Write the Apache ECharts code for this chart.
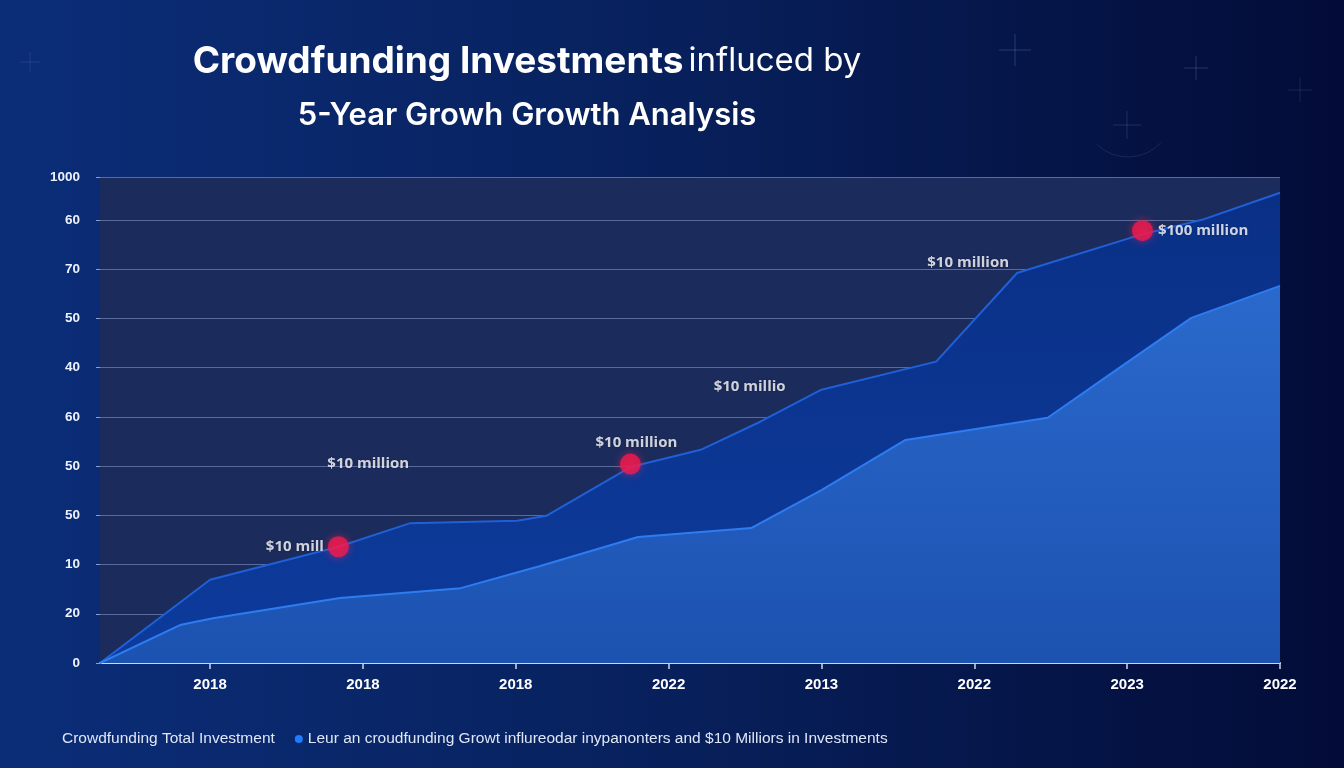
<!DOCTYPE html>
<html>
<head>
<meta charset="utf-8">
<script src="https://cdn.jsdelivr.net/npm/echarts@6/dist/echarts.min.js"></script>
<style>
html,body{margin:0;padding:0;width:1344px;height:768px;overflow:hidden;background:#061a55;}
#c{width:1344px;height:768px;}
</style>
</head>
<body>
<div id="c"></div>
<script>
// ---- data ----
var xTickPositions = [0, 1, 2, 3, 4, 5, 6, 7];
var xTickLabels = ['2018', '2018', '2018', '2022', '2013', '2022', '2023', '2022'];
var yTickLabels = ['0', '20', '10', '50', '50', '60', '40', '50', '70', '60', '1000'];

var totalName = 'Crowdfunding Total Investment';
var totalX = [-0.72, 0, 0.84, 1.31, 2.01, 2.20, 2.75, 3.21, 3.60, 4.00, 4.75, 5.28, 6.09, 6.49, 7.00];
var totalY = [0, 16.9, 23.6, 28.4, 28.9, 29.9, 39.8, 43.3, 49.0, 55.5, 61.2, 79.2, 87.0, 90.0, 95.5];

var growthName = 'Leur an croudfunding Growt influreodar inypanonters and $10 Milliors in Investments';
var growthX = [-0.72, -0.197, 0.02, 0.85, 1.64, 2.16, 2.80, 3.54, 4.00, 4.55, 5.48, 5.96, 6.42, 7.00];
var growthY = [0, 7.7, 9.1, 13.2, 15.2, 19.7, 25.6, 27.4, 35.1, 45.3, 49.8, 60.2, 70.1, 76.6];

var annoX = [0.84, 1.035, 2.75, 3.53, 4.96, 6.10];
var annoY = [23.6, 40.4, 40.4, 56.1, 81.3, 87.8];
var annoText = ['$10 mill', '$10 million', '$10 million', '$10 millio', '$10 million', '$100 million'];
var annoMarker = [true, false, true, false, false, true];

// ---- presentation (not data) ----
var annoPlacement = [
  {position: 'left', distance: 4, offset: [0, 0]},
  {position: 'inside', distance: 0, offset: [0, 0]},
  {position: 'top', distance: 3, offset: [6, 0]},
  {position: 'inside', distance: 0, offset: [0, 0]},
  {position: 'inside', distance: 0, offset: [0, 0]},
  {position: 'right', distance: 5, offset: [0, 0]}
];

function zip(xs, ys) { return xs.map(function (x, i) { return [x, ys[i]]; }); }

var annoData = annoX.map(function (x, i) {
  var p = annoPlacement[i];
  return {
    value: [x, annoY[i]],
    symbolSize: annoMarker[i] ? 21 : 0,
    label: {
      show: true, formatter: annoText[i], position: p.position,
      distance: p.distance, offset: p.offset
    }
  };
});

var chart = echarts.init(document.getElementById('c'), null, {renderer: 'canvas'});

function cross(x, y, s, op) {
  return {
    type: 'group', silent: true,
    children: [
      {type: 'line', shape: {x1: x - s, y1: y, x2: x + s, y2: y}, style: {stroke: 'rgba(170,190,240,' + op + ')', lineWidth: 1}},
      {type: 'line', shape: {x1: x, y1: y - s, x2: x, y2: y + s}, style: {stroke: 'rgba(170,190,240,' + op + ')', lineWidth: 1}}
    ]
  };
}

var option = {
  backgroundColor: new echarts.graphic.LinearGradient(0, 0, 1, 0, [
    {offset: 0, color: '#0b2d78'},
    {offset: 0.45, color: '#08225f'},
    {offset: 1, color: '#030c38'}
  ]),
  animation: false,
  graphic: [
    cross(1015, 50, 16, 0.22),
    cross(1196, 68, 12, 0.2),
    cross(1127, 125, 14, 0.16),
    cross(30, 62, 10, 0.13),
    cross(1300, 90, 12, 0.13),
    {type: 'arc', silent: true, shape: {cx: 1128, cy: 112, r: 45, startAngle: 0.75, endAngle: 2.35},
     style: {stroke: 'rgba(170,190,240,0.12)', lineWidth: 1, fill: null}}
  ],
  title: [
    {
      text: '{b|Crowdfunding Investments} {r|influced by}',
      left: 522, top: 38, textAlign: 'center',
      textStyle: {
        rich: {
          b: {fontFamily: 'Inter', fontWeight: 'bold', fontSize: 37, color: '#ffffff'},
          r: {fontFamily: 'Inter', fontWeight: 'normal', fontSize: 33, color: '#ffffff'}
        }
      }
    },
    {
      text: '5-Year Growh Growth Analysis',
      left: 522, top: 95, textAlign: 'center',
      textStyle: {fontFamily: 'Inter', fontWeight: 600, fontSize: 31, color: '#ffffff'}
    }
  ],
  legend: {
    left: 44, top: 726,
    itemWidth: 8, itemHeight: 8, itemGap: 20,
    textStyle: {color: '#dfe6f7', fontSize: 15.5, fontFamily: 'Liberation Sans'},
    data: [
      {name: totalName, icon: 'none'},
      {name: growthName, icon: 'circle', itemStyle: {color: '#1f7bff'}}
    ]
  },
  grid: {
    left: 100, right: 64, top: 177, bottom: 105,
    show: true, backgroundColor: '#1b2b5c', borderWidth: 0
  },
  xAxis: {
    type: 'value', min: -0.72, max: 7,
    axisLine: {show: true, onZero: false, lineStyle: {color: '#cdd8f0', width: 2}},
    axisTick: {show: true, customValues: xTickPositions, length: 6, lineStyle: {color: '#cdd8f0', width: 1.5}},
    axisLabel: {
      customValues: xTickPositions, margin: 14,
      color: '#ffffff', fontSize: 15, fontWeight: 'bold', fontFamily: 'Liberation Sans',
      formatter: function (v) { return xTickLabels[Math.round(v)]; }
    },
    splitLine: {show: false}
  },
  yAxis: {
    type: 'value', min: 0, max: 98.7, interval: 10,
    axisLine: {show: false, onZero: false},
    axisTick: {show: true, length: 4, lineStyle: {color: '#8a9dcc'}},
    axisLabel: {
      margin: 20, color: '#eef2fc', fontSize: 13.5, fontWeight: 'bold', fontFamily: 'Liberation Sans',
      formatter: function (v, i) { return yTickLabels[i]; }
    },
    splitLine: {show: true, lineStyle: {color: 'rgba(140,160,210,0.55)', width: 1}}
  },
  series: [
    {
      name: totalName, type: 'line', data: zip(totalX, totalY),
      symbol: 'none', z: 2,
      lineStyle: {color: '#1f60d8', width: 2},
      itemStyle: {color: '#1f60d8'},
      areaStyle: {
        opacity: 1,
        color: new echarts.graphic.LinearGradient(0, 0, 0, 1, [
          {offset: 0, color: '#0a3086'},
          {offset: 1, color: '#0d3b9c'}
        ])
      }
    },
    {
      name: growthName, type: 'line', data: zip(growthX, growthY),
      symbol: 'none', z: 3,
      lineStyle: {color: '#2e7cf2', width: 2},
      itemStyle: {color: '#1f7bff'},
      areaStyle: {
        opacity: 1,
        color: new echarts.graphic.LinearGradient(0, 0, 0, 1, [
          {offset: 0, color: '#2a69cc'},
          {offset: 1, color: '#1c52b0'}
        ])
      }
    },
    {
      name: 'annotations', type: 'scatter', data: annoData, z: 10,
      symbol: 'circle',
      itemStyle: {color: '#f2194c', shadowColor: 'rgba(255,40,90,0.6)', shadowBlur: 8},
      label: {
        color: '#ffffff', fontSize: 15, fontWeight: 'bold', fontFamily: 'Open Sans',
        textShadowColor: 'rgba(0,0,20,0.4)', textShadowBlur: 2
      },
      tooltip: {show: false}
    }
  ]
};
chart.setOption(option);
</script>
</body>
</html>
